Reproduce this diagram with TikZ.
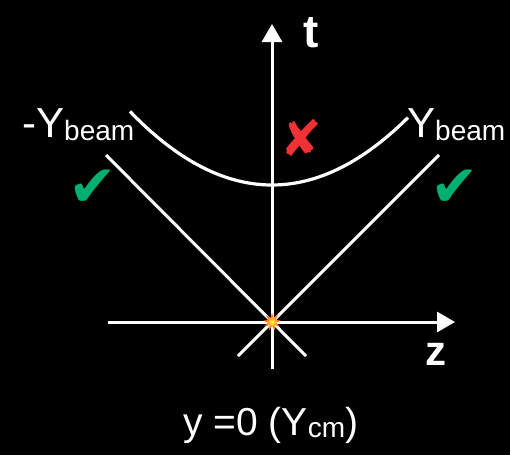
\documentclass[tikz,border=0pt]{standalone}
\usepackage{fontspec}
\setmainfont{Liberation Sans}
\newfontfamily\symfont{DejaVu Sans}
\usetikzlibrary{positioning,shapes.geometric,arrows.meta}

\definecolor{okgreen}{RGB}{0,176,112}
\definecolor{badred}{RGB}{240,50,55}

\tikzset{
    axis/.style={white, line width=3pt, -{Triangle[length=18pt,width=20pt]}},
    lightline/.style={white, line width=3pt},
    rapidity/.style={white, line width=3.2pt},
    lbl/.style={white, inner sep=0pt, anchor=base west},
    signmark/.style={inner sep=0pt, font=\symfont\fontsize{58}{58}\selectfont}
}

\begin{document}
\begin{tikzpicture}[x=1pt, y=-1pt]
    \fill[black] (0,0) rectangle (510,455);
    \useasboundingbox (0,0) rectangle (510,455);

    % axes
    \coordinate (O) at (272,322);
    \coordinate (tBot) at (272,369);
    \coordinate (tTop) at (272,24);
    \coordinate (zLeft) at (108,322);
    \coordinate (zRight) at (455,322);
    \draw[axis] (tBot) -- (tTop);
    \draw[axis] (zLeft) -- (zRight);

    % light cone
    \coordinate (lcL1) at (106,155);
    \coordinate (lcL2) at (306,356);
    \coordinate (lcR1) at (439,155);
    \coordinate (lcR2) at (238,356);
    \draw[lightline] (lcL1) -- (lcL2);
    \draw[lightline] (lcR1) -- (lcR2);

    % beam rapidity curve
    \draw[rapidity] plot[domain=-142:136, samples=60, smooth] ({272+\x}, {185-(0.0604*\x)*(0.0604*\x)});

    % labels
    \node[lbl, font=\bfseries\fontsize{46}{46}\selectfont] (lblT) at (303,47) {t};
    \node[lbl, font=\bfseries\fontsize{42}{42}\selectfont] (lblZ) at (425,365) {z};
    \node[lbl, font=\fontsize{42}{42}\selectfont] (lblYneg) at (22,137)
        {-Y\raisebox{-3pt}{\fontsize{28}{28}\selectfont beam}};
    \node[lbl, font=\fontsize{42}{42}\selectfont] (lblYpos) at (407,137)
        {Y\raisebox{-3pt}{\fontsize{28}{28}\selectfont beam}};
    \node[lbl, font=\fontsize{39}{39}\selectfont] (lblBottom) at (183,435)
        {y =0 (Y\raisebox{-2pt}{\fontsize{28}{28}\selectfont cm})};

    % marks
    \node[signmark, text=okgreen] (chkL) at (93,188) {✔};
    \node[signmark, text=okgreen] (chkR) at (455,188) {✔};
    \node[signmark, text=badred, font=\symfont\fontsize{50}{50}\selectfont] (cross) at (301,138) {✘};

    % collision point
    \node[star, star points=9, star point ratio=2.2, minimum size=18pt, inner sep=0pt,
          shading=radial, inner color=yellow!70!white, outer color=red!60!orange] (burst) at (O) {};
\end{tikzpicture}
\end{document}
